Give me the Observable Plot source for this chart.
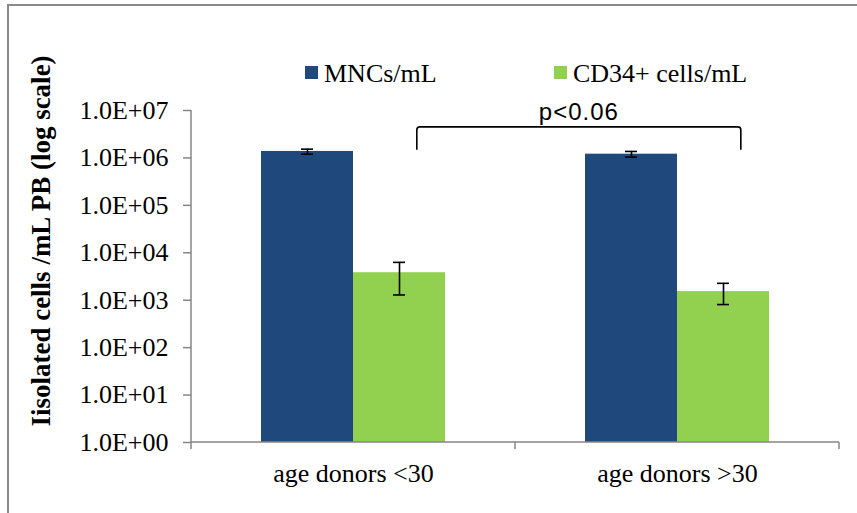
<!DOCTYPE html>
<html><head><meta charset="utf-8">
<script src="https://cdn.jsdelivr.net/npm/d3@7"></script>
<script src="https://cdn.jsdelivr.net/npm/@observablehq/plot@0.6"></script>
<style>
html,body{margin:0;padding:0;background:#fff;}
#chart svg{display:block;}
</style></head><body><div id="chart"></div>
<script>
const groups = ["age donors <30", "age donors >30"];
const series = ["MNCs/mL", "CD34+ cells/mL"];
const mncValues = [1.37e6, 1.2e6];
const mncLow = [1.2e6, 1.04e6];
const mncHigh = [1.53e6, 1.37e6];
const cd34Values = [3.8e3, 1.52e3];
const cd34Low = [1.29e3, 8.1e2];
const cd34High = [6.28e3, 2.27e3];
const yTicks = [1, 10, 100, 1e3, 1e4, 1e5, 1e6, 1e7];
const yTitle = "Iisolated cells /mL PB (log scale)";
const pLabel = "p<0.06";
const bracketTop = 4.4e6;
const bracketBottom = 1.45e6;
const colors = ["#1F497D", "#92D050"];

const rows = groups.flatMap((g, i) => [
  {group: g, series: series[0], value: mncValues[i], low: mncLow[i], high: mncHigh[i]},
  {group: g, series: series[1], value: cd34Values[i], low: cd34Low[i], high: cd34High[i]}
]);

const serif = "'Liberation Serif','Times New Roman',serif";
const axisGray = "#868686";

const plot = Plot.plot({
  width: 857, height: 513,
  marginLeft: 191, marginRight: 18, marginTop: 110, marginBottom: 71,
  style: {fontFamily: serif, fontSize: "26px", background: "#fff", color: "#000"},
  fx: {domain: groups, padding: 0, label: null},
  x: {domain: series, paddingInner: 0, paddingOuter: 70 / 92, axis: null},
  y: {type: "log", domain: [1, 1e7], label: null},
  color: {domain: series, range: colors},
  marks: [
    Plot.barY(rows, {fx: "group", x: "series", y1: 1, y2: "value", fill: "series"}),
    Plot.ruleX(rows, {fx: "group", x: "series", y1: "low", y2: "high", stroke: "#000", strokeWidth: 1.6}),
    Plot.tickY(rows, {fx: "group", x: "series", y: "low", insetLeft: 40, insetRight: 40, stroke: "#000", strokeWidth: 1.6}),
    Plot.tickY(rows, {fx: "group", x: "series", y: "high", insetLeft: 40, insetRight: 40, stroke: "#000", strokeWidth: 1.6}),
    Plot.axisY({ticks: yTicks, tickFormat: d => "1.0E+" + String(Math.round(Math.log10(d))).padStart(2, "0"),
      tickSize: 8, tickPadding: 15, stroke: axisGray, fill: "#000", label: null, strokeWidth: 1.5}),
    Plot.axisFx({anchor: "bottom", tickSize: 0, tickPadding: 21, label: null, fill: "#000"})
  ]
});

// decorations using the plot's own scales
const svg = d3.select(plot);
const fx = plot.scale("fx");
const y = plot.scale("y");
const bw = fx.bandwidth;
const x0 = fx.apply(groups[0]);
const xEnd = fx.apply(groups[groups.length - 1]) + bw;
const yBase = y.apply(1);
const yTopTick = y.apply(1e7);

const g = svg.append("g");
// outer frame
g.append("path").attr("d", "M8,513V5H857").attr("fill", "none").attr("stroke", "#8a8a8a").attr("stroke-width", 2);
// y axis line
g.append("line").attr("x1", x0).attr("x2", x0).attr("y1", yTopTick).attr("y2", yBase)
  .attr("stroke", axisGray).attr("stroke-width", 1.5);
// x axis line
g.append("line").attr("x1", x0).attr("x2", xEnd).attr("y1", yBase).attr("y2", yBase)
  .attr("stroke", axisGray).attr("stroke-width", 1.5);
// category boundary ticks
const bounds = groups.map(d => fx.apply(d)).concat([xEnd]);
bounds.forEach(b => g.append("line").attr("x1", b).attr("x2", b).attr("y1", yBase).attr("y2", yBase + 7)
  .attr("stroke", axisGray).attr("stroke-width", 1.5));

// bracket
const bx1 = fx.apply(groups[0]) + bw * 0.697;
const bx2 = fx.apply(groups[1]) + bw * 0.697;
const byT = y.apply(bracketTop), byB = y.apply(bracketBottom);
const r = 3;
g.append("path")
  .attr("d", `M${bx1},${byB}V${byT + r}Q${bx1},${byT} ${bx1 + r},${byT}H${bx2 - r}Q${bx2},${byT} ${bx2},${byT + r}V${byB}`)
  .attr("fill", "none").attr("stroke", "#000").attr("stroke-width", 1.6);
g.append("text").attr("x", (bx1 + bx2) / 2).attr("y", byT - 7).attr("text-anchor", "middle")
  .attr("font-family", "'Liberation Sans','Arial',sans-serif").attr("font-size", 24).attr("letter-spacing", 1)
  .attr("fill", "#000").text(pLabel);

// y axis title
g.append("text").attr("transform", "translate(50,241) rotate(-90)").attr("text-anchor", "middle")
  .attr("font-family", serif).attr("font-weight", "bold").attr("font-size", 27).attr("fill", "#000").text(yTitle);

// legend
const color = plot.scale("color");
const legendX = [305, 554];
series.forEach((s, i) => {
  g.append("rect").attr("x", legendX[i]).attr("y", 66).attr("width", 13).attr("height", 13)
    .attr("fill", color.range[color.domain.indexOf(s)]);
  g.append("text").attr("x", legendX[i] + 19).attr("y", 82).attr("text-anchor", "start")
    .attr("font-family", serif).attr("font-size", 26).attr("fill", "#000").text(s);
});

document.getElementById("chart").appendChild(plot);
</script>
</body></html>
